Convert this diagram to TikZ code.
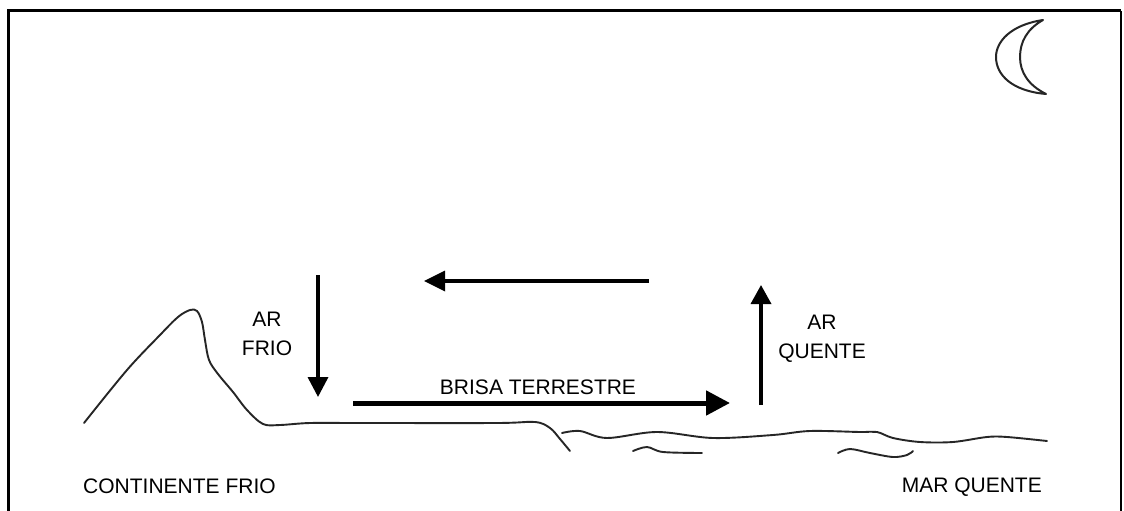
\documentclass[tikz,border=0pt]{standalone}
\usepackage{fontspec}
\setmainfont{Liberation Sans}
\usetikzlibrary{arrows.meta}
\begin{document}
\begin{tikzpicture}[x=1pt,y=-1pt,
  label/.style={font=\fontsize{21}{29}\selectfont, text=black, inner sep=0pt, align=center},
  flow/.style={line width=3.5pt, -{Triangle[length=20pt,width=20pt]}},
  breeze/.style={line width=5pt, -{Triangle[length=24pt,width=24pt]}},
  terrain/.style={line width=1.9pt, black!85, line cap=round, line join=round},
  moonline/.style={line width=2pt, black!85, line join=round}]
\useasboundingbox (0,0) rectangle (1124,511);
\fill[white] (0,0) rectangle (1124,511);

% frame
\draw[line width=3pt] (8,520) -- (8,11) -- (1121,11);
\draw[line width=2pt] (1121,11) -- (1121,520);

% moon
\draw[moonline] (1043,20) .. controls (1010,25) and (996,42) .. (996,57)
  .. controls (996,75) and (1012,91) .. (1046,94)
  .. controls (1028,85) and (1020,72) .. (1020,57)
  .. controls (1020,42) and (1027,29) .. (1043,20) -- cycle;

% coast with the mountain
\draw[terrain] plot[smooth, tension=0.55] coordinates {
  (84,423) (127,370) (160,335) (178,317) (190,310) (197,311) (202,322) (205,340)
  (209,360) (218,374) (233,392) (247,410) (263,424) (280,425) (310,423)
  (360,423) (497,423) (535,422) (550,428) (560,439) (570,451)};

% sea surface
\draw[terrain] plot[smooth, tension=0.55] coordinates {
  (562,433) (580,431) (607,438) (657,432) (713,438) (773,435) (810,431)
  (860,432) (877,432) (893,438) (920,442) (953,442) (987,437) (1007,437) (1047,441)};
\draw[terrain] plot[smooth, tension=0.55] coordinates {
  (633,451) (647,447) (663,452) (702,453)};
\draw[terrain] plot[smooth, tension=0.55] coordinates {
  (838,453) (850,449) (870,453) (893,457) (907,455) (913,451)};

% circulation arrows
\coordinate (coldtop) at (318,275);
\coordinate (coldbot) at (318,397);
\coordinate (breezeL) at (353,403);
\coordinate (breezeR) at (730,403);
\coordinate (warmbot) at (761,405);
\coordinate (warmtop) at (761,285);
\coordinate (backR) at (649,281);
\coordinate (backL) at (424,281);

\draw[flow] (coldtop) -- (coldbot);
\draw[breeze] (breezeL) -- (breezeR);
\draw[flow, -{Triangle[length=19pt,width=20pt]}] (warmbot) -- (warmtop);
\draw[flow, -{Triangle[length=21pt,width=20pt]}] (backR) -- (backL);

% labels
\node[label] (arfrio) at (267,334) {AR\\FRIO};
\node[label] (arquente) at (822,338.5) {AR\\QUENTE};
\node[label] (brisa) at (538,387) {BRISA TERRESTRE};
\node[label, anchor=west] (continente) at (83,486) {CONTINENTE FRIO};
\node[label, anchor=east] (mar) at (1042,487) {MAR QUENTE};
\end{tikzpicture}
\end{document}
